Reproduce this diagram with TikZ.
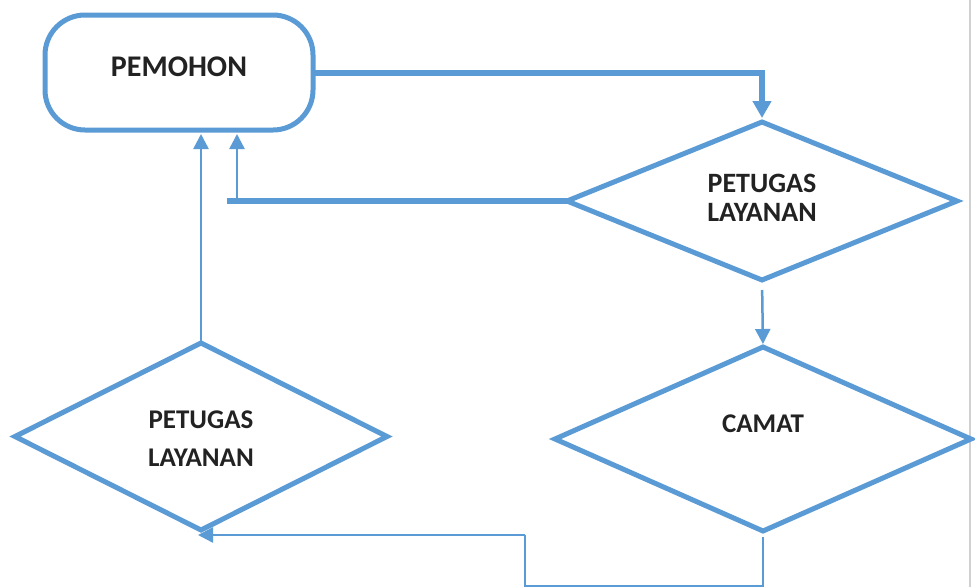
\documentclass[tikz,border=0pt]{standalone}
\usepackage{fontspec}
\setmainfont{Carlito}
\usetikzlibrary{shapes.geometric,arrows.meta}
\definecolor{flowblue}{HTML}{5B9BD5}
\definecolor{ink}{HTML}{222222}
\tikzset{
  terminal/.style={draw=flowblue, line width=5pt, fill=white, rectangle,
    rounded corners=40pt, minimum width=268pt, minimum height=115pt,
    inner sep=0pt, outer sep=0pt, text=ink,
    font=\bfseries\fontsize{30}{30}\selectfont},
  decision/.style={draw=flowblue, line width=5pt, fill=white, diamond,
    inner sep=0pt, outer sep=0pt, align=center, text=ink},
  caption/.style={inner sep=0pt, align=center, text=ink},
  bigflow/.style={draw=flowblue, line width=6pt,
    -{Triangle[width=18pt,length=17pt]}},
  thinflow/.style={draw=flowblue, line width=2.5pt,
    -{Triangle[width=15pt,length=15pt]}},
  plainflow/.style={draw=flowblue, line width=2.5pt},
  wideline/.style={draw=flowblue, line width=6pt},
}
\begin{document}
\begin{tikzpicture}[x=1pt, y=-1pt]
  \useasboundingbox (0,0) rectangle (975,587);
  \fill[white] (0,0) rectangle (975,587);
  % scanned page edge
  \draw[black!18, line width=1.2pt] (970,0) -- (970,587);

  % shapes
  \node[terminal] (pemohon) at (179,72.5) {\raisebox{12pt}{PEMOHON}};
  \node[decision, minimum width=390pt, minimum height=158pt,
        label={[caption, yshift=3.5pt, font=\bfseries\fontsize{28}{29}\selectfont]center:PETUGAS\\LAYANAN}]
        (layan1) at (762,201) {};
  \node[decision, minimum width=416pt, minimum height=184pt,
        font=\bfseries\fontsize{27}{27}\selectfont] (camat) at (763,439)
        {\raisebox{30pt}{CAMAT}};
  \node[decision, minimum width=372pt, minimum height=187pt,
        label={[caption, yshift=-2.5pt, font=\bfseries\fontsize{27}{38}\selectfont]center:PETUGAS\\LAYANAN}]
        (layan2) at (201,436.5) {};

  % helper points
  \coordinate (retend) at (227,203);
  \coordinate (retup) at (237,203);
  \coordinate (low) at (763,586);
  \coordinate (mid) at (525,586);
  \coordinate (midtop) at (525,535);

  % connectors
  \draw[bigflow, shorten >=4pt] (pemohon.east) -| (layan1.north);
  \draw[wideline] (layan1.west) -- (layan1.west -| retend);
  \draw[thinflow, shorten >=4pt] (retup) -- (retup |- pemohon.south);
  \draw[thinflow, shorten >=4pt] (layan2.north) -- (layan2.north |- pemohon.south);
  \draw[thinflow, shorten <=10pt, shorten >=3pt] (layan1.south) -- (camat.north);
  \draw[plainflow, shorten <=6pt] (camat.south) -- (low) -- (mid) -- (midtop);
  \draw[thinflow] (midtop) -- ([yshift=-5pt,xshift=-3pt]layan2.south);
\end{tikzpicture}
\end{document}
